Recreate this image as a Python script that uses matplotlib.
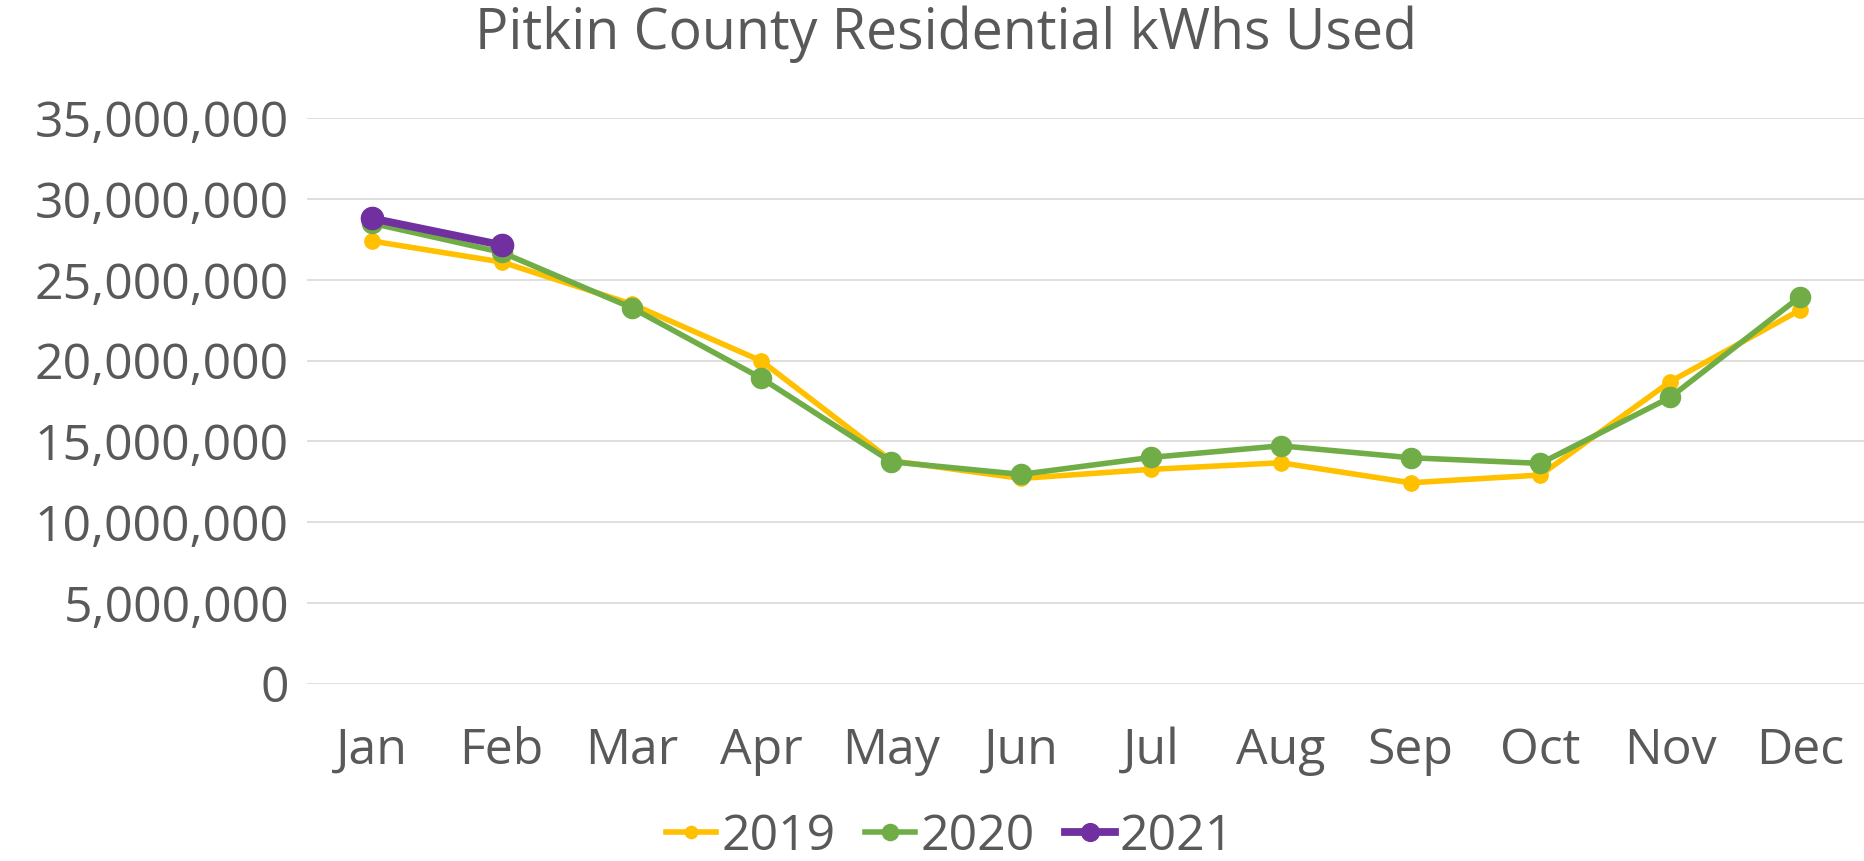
import matplotlib
matplotlib.use("Agg")
import matplotlib.pyplot as plt
from matplotlib.ticker import FuncFormatter, MultipleLocator

months = ["Jan", "Feb", "Mar", "Apr", "May", "Jun", "Jul", "Aug", "Sep", "Oct", "Nov", "Dec"]
kwh_2019 = [27.4e6, 26.1e6, 23.5e6, 19.97e6, 13.8e6, 12.7e6, 13.26e6, 13.67e6, 12.43e6, 12.91e6, 18.69e6, 23.13e6]
kwh_2020 = [28.5e6, 26.7e6, 23.27e6, 18.9e6, 13.73e6, 12.95e6, 14.0e6, 14.72e6, 13.98e6, 13.63e6, 17.72e6, 23.95e6]
kwh_2021 = [28.8e6, 27.15e6]
title = "Pitkin County Residential kWhs Used"

plt.rcParams['font.family'] = ['Open Sans', 'DejaVu Sans']
text_color = "#595959"

fig = plt.figure(figsize=(18.65, 8.61), dpi=100)
ax = fig.add_axes([307 / 1865, 1 - 683.5 / 861, 1 - 307 / 1865, (683.5 - 118.3) / 861])

x = list(range(len(months)))
ax.plot(x, kwh_2019, color="#FFC000", lw=4.0, marker="o", ms=11, label="2019", zorder=3, solid_joinstyle="round")
ax.plot(x, kwh_2020, color="#70AD47", lw=4.0, marker="o", ms=14.5, label="2020", zorder=4, solid_joinstyle="round")
ax.plot(x[:len(kwh_2021)], kwh_2021, color="#7030A0", lw=5.6, marker="o", ms=16, label="2021", zorder=5, solid_joinstyle="round")

ax.set_xlim(-0.5, 11.5)
ax.set_ylim(0, 35e6)
ax.yaxis.set_major_locator(MultipleLocator(5e6))
ax.yaxis.set_major_formatter(FuncFormatter(lambda v, p: f"{int(round(v)):,}"))
ax.set_xticks(x)
ax.set_xticklabels(months)
ax.grid(axis="y", color="#d9d9d9", lw=1.2, zorder=0)
ax.set_axisbelow(True)
for s in ax.spines.values():
    s.set_visible(False)
ax.tick_params(axis="both", length=0, labelsize=36, colors=text_color)
ax.tick_params(axis="y", pad=13)
ax.tick_params(axis="x", pad=31)

fig.text(946 / 1865, 1 - 34 / 861, title, ha="center", va="center", fontsize=40, color=text_color)

leg = fig.legend(loc="center", bbox_to_anchor=(950 / 1865, 1 - 837 / 861), ncol=3, frameon=False,
                 fontsize=36, handlelength=1.0, handletextpad=0.1, columnspacing=0.6, markerscale=0.8,
                 labelcolor=text_color, borderpad=0)

fig.savefig("out.png", dpi=100)
